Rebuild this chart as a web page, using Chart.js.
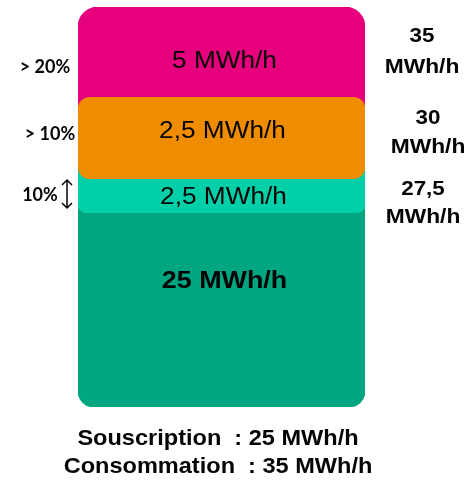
<!DOCTYPE html>
<html>
<head>
<meta charset="utf-8">
<script src="https://cdn.jsdelivr.net/npm/chart.js@4"></script>
<style>
  body { margin: 0; background: #fff; }
  #wrap { width: 472px; height: 481px; }
</style>
</head>
<body>
<div id="wrap"><canvas id="chart"></canvas></div>
<script>
// Data (bottom to top)
var segments = ['Souscription', 'Tolérance 10%', 'Dépassement > 10%', 'Dépassement > 20%'];
var valuesMWh = [25, 2.5, 2.5, 5];
var thresholds = ['10%', '> 10%', '> 20%'];
var colors = ['rgb(0, 166, 128)', 'rgb(0, 207, 168)', 'rgb(240, 140, 0)', 'rgb(230, 0, 126)'];
// drawn band of each block, in % of the bar height (picture is not to scale, blocks overlap)
var bandStart = [0, 48.6, 57.1, 70];
var bandEnd = [55, 65, 77.4, 100];

function fmt(v) {
    return String(v).replace('.', ',');
}

// cumulative levels: 27,5 / 30 / 35
var levels = [];
var sum = 0;
for (var i = 0; i < valuesMWh.length; i++) {
    sum += valuesMWh[i];
    levels.push(sum);
}

var datasets = [];
var radius = [16, 8, 12, 20];
var drawOrder = [3, 2, 0, 1]; // orange on top, then pink, teal, green
for (var i = 0; i < segments.length; i++) {
    datasets.push({
        label: segments[i],
        data: [[bandStart[i], bandEnd[i]]],
        backgroundColor: colors[i],
        borderRadius: radius[i],
        borderSkipped: false,
        borderWidth: 0,
        order: drawOrder[i],
        grouped: false,
        barPercentage: 1,
        categoryPercentage: 1
    });
}

// centered text, optionally stretched horizontally (the original uses wide type)
function drawText(ctx, text, x, y, font, stretch) {
    stretch = stretch || 1;
    ctx.save();
    ctx.font = font;
    ctx.translate(x, y);
    ctx.scale(stretch, 1);
    var w = ctx.measureText(text).width;
    ctx.fillText(text, -w / 2, 0);
    ctx.restore();
}

var textPlugin = {
    id: 'texts',
    afterDatasetsDraw: function(chart) {
        var ctx = chart.ctx;
        var area = chart.chartArea;
        var cx = (area.left + area.right) / 2;
        ctx.save();
        ctx.fillStyle = '#050505';
        ctx.textBaseline = 'middle';
        ctx.textAlign = 'left';

        // values inside the blocks
        drawText(ctx, fmt(valuesMWh[3]) + ' MWh/h', cx + 3, 62, '23px "Liberation Sans"', 1.14);
        drawText(ctx, fmt(valuesMWh[2]) + ' MWh/h', cx + 1, 132, '23px "Liberation Sans"', 1.14);
        drawText(ctx, fmt(valuesMWh[1]) + ' MWh/h', cx + 2, 198, '23px "Liberation Sans"', 1.14);
        drawText(ctx, fmt(valuesMWh[0]) + ' MWh/h', cx + 3, 281, 'bold 24px "Liberation Sans"', 1.12);

        // cumulative levels on the right
        var rightY = [[189, 217], [118, 147], [36, 67]];
        var rightX = [423, 428, 422];
        for (var i = 0; i < 3; i++) {
            drawText(ctx, fmt(levels[i + 1]), rightX[i], rightY[i][0], 'bold 20px "Liberation Sans"', 1.12);
            drawText(ctx, 'MWh/h', rightX[i], rightY[i][1], 'bold 20px "Liberation Sans"', 1.14);
        }

        // thresholds on the left
        drawText(ctx, thresholds[2], 45, 67, 'bold 18px Lato', 1);
        drawText(ctx, thresholds[1], 50, 134, 'bold 18px Lato', 1);
        drawText(ctx, thresholds[0], 40, 195, 'bold 18px Lato', 1);

        // double arrow next to 10%
        ctx.strokeStyle = '#050505';
        ctx.lineWidth = 1.5;
        ctx.beginPath();
        ctx.moveTo(67, 180); ctx.lineTo(67, 208);
        ctx.moveTo(62, 185); ctx.lineTo(67, 180); ctx.lineTo(72, 185);
        ctx.moveTo(62, 203); ctx.lineTo(67, 208); ctx.lineTo(72, 203);
        ctx.stroke();

        // captions below
        drawText(ctx, 'Souscription  : ' + valuesMWh[0] + ' MWh/h', 218, 439, 'bold 22px "Liberation Sans"', 1.07);
        drawText(ctx, 'Consommation  : ' + levels[3] + ' MWh/h', 218, 467, 'bold 22px "Liberation Sans"', 1.07);
        ctx.restore();
    }
};

var ctx = document.getElementById('chart').getContext('2d');
window.barChart = new Chart(ctx, {
    type: 'bar',
    data: {
        labels: [''],
        datasets: datasets
    },
    options: {
        responsive: true,
        maintainAspectRatio: false,
        animation: false,
        layout: {
            padding: { left: 78, right: 107, top: 7, bottom: 74 }
        },
        scales: {
            x: { display: false },
            y: { display: false, min: 0, max: 100 }
        },
        plugins: {
            legend: { display: false },
            tooltip: { enabled: false }
        }
    },
    plugins: [textPlugin]
});
</script>
</body>
</html>
